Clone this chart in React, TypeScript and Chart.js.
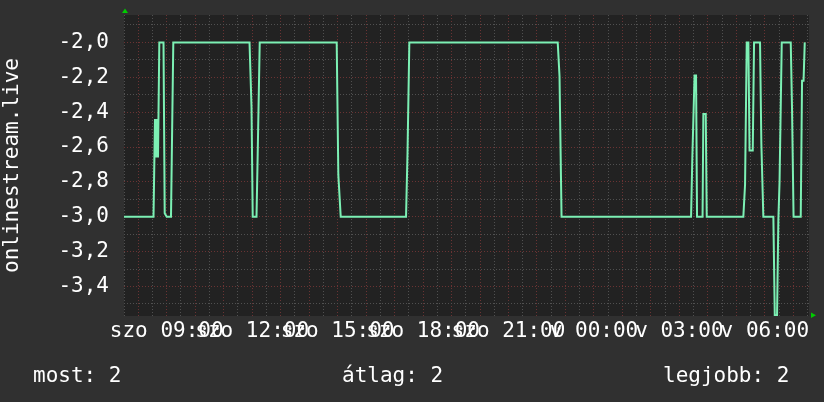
import React, { useEffect, useRef } from 'react';
import { Chart, registerables } from 'chart.js';

Chart.register(...registerables);

// time in hours since Saturday 00:00
const hours = [
  7.5, 8.536, 8.588, 8.624, 8.659, 8.694, 8.74, 8.887, 8.929, 8.999,
  9.15, 9.178, 9.231, 11.907, 11.977, 12.019, 12.152, 12.194, 12.265,
  14.968, 15.025, 15.109, 17.402, 17.454, 17.518, 22.728, 22.791, 22.862,
  27.409, 27.454, 27.532, 27.584, 27.619, 27.813, 27.841, 27.925, 27.96,
  29.245, 29.305, 29.364, 29.421, 29.463, 29.575, 29.621, 29.831, 29.877,
  29.947, 30.299, 30.348, 30.428, 30.474, 30.516, 30.593, 30.909, 30.955,
  31.008, 31.26, 31.306, 31.359, 31.401,
];
const values = [
  -3.0, -3.0, -2.44, -2.66, -2.44, -2.66, -2.0, -2.0, -2.98, -3.0,
  -3.0, -2.655, -2.0, -2.0, -2.37, -3.0, -3.0, -2.64, -2.0,
  -2.0, -2.76, -3.0, -3.0, -2.635, -2.0, -2.0, -2.195, -3.0,
  -3.0, -2.66, -2.19, -2.19, -3.0, -3.0, -2.41, -2.41, -3.0,
  -3.0, -2.815, -2.0, -2.0, -2.62, -2.62, -2.0, -2.0, -2.58,
  -3.0, -3.0, -3.565, -3.565, -3.02, -2.8, -2.0, -2.0, -2.386,
  -3.0, -3.0, -2.22, -2.22, -2.0,
];

const yGridValues = [-1.9, -2.0, -2.1, -2.2, -2.3, -2.4, -2.5, -2.6, -2.7, -2.8, -2.9, -3.0, -3.1, -3.2, -3.3, -3.4, -3.5];
const xLabelHours = [9, 12, 15, 18, 21, 24, 27, 30];
const xLabels = ['szo 09:00', 'szo 12:00', 'szo 15:00', 'szo 18:00', 'szo 21:00', 'v 00:00', 'v 03:00', 'v 06:00'];
const xGridStart = 7.5;
const xGridEnd = 31.5;
const xGridStep = 0.5;
const seriesName = 'onlinestream.live';
const legendTexts = ['most: 2', 'átlag: 2', 'legjobb: 2'];
const legendX = [33, 342, 663];

const FONT = "'DejaVu Sans Mono', monospace";
const RED_GRID = '#6a3333';
const GRAY_GRID = '#505050';

export default function App() {
  const ref = useRef<HTMLCanvasElement | null>(null);

  useEffect(() => {
    const canvas = ref.current;
    if (!canvas) return;

    const xGrid: number[] = [];
    for (let h = xGridStart; h <= xGridEnd + 1e-9; h += xGridStep) xGrid.push(Math.round(h * 2) / 2);

    const decor = {
      id: 'decor',
      beforeDraw(chart: any) {
        const { ctx, chartArea } = chart;
        ctx.save();
        ctx.fillStyle = '#222222';
        ctx.fillRect(chartArea.left, chartArea.top, chartArea.right - chartArea.left, chartArea.bottom - chartArea.top);
        ctx.restore();
      },
      afterDraw(chart: any) {
        const { ctx, chartArea } = chart;
        ctx.save();
        ctx.fillStyle = '#00cc00';
        ctx.beginPath();
        ctx.moveTo(chartArea.left + 1, chartArea.top - 6.5);
        ctx.lineTo(chartArea.left - 2, chartArea.top - 2);
        ctx.lineTo(chartArea.left + 4, chartArea.top - 2);
        ctx.closePath();
        ctx.fill();
        ctx.beginPath();
        ctx.moveTo(chartArea.right + 2, chartArea.bottom - 3.5);
        ctx.lineTo(chartArea.right + 2, chartArea.bottom + 2);
        ctx.lineTo(chartArea.right + 7, chartArea.bottom - 0.7);
        ctx.closePath();
        ctx.fill();
        ctx.fillStyle = '#ffffff';
        ctx.font = `21px ${FONT}`;
        ctx.textBaseline = 'alphabetic';
        ctx.textAlign = 'left';
        legendTexts.forEach((t, i) => ctx.fillText(t, legendX[i], 382));
        ctx.restore();
      },
    };

    const chart = new Chart(canvas, {
      type: 'line',
      data: {
        datasets: [
          {
            label: seriesName,
            data: hours.map((h, i) => ({ x: h, y: values[i] })),
            borderColor: '#7cf0b4',
            borderWidth: 2,
            pointRadius: 0,
            tension: 0,
            fill: false,
          },
        ],
      },
      options: {
        animation: false,
        responsive: false,
        devicePixelRatio: 1,
        layout: { padding: { top: 15, right: 15, left: 0, bottom: 0 } },
        plugins: { legend: { display: false }, tooltip: { enabled: false } },
        scales: {
          x: {
            type: 'linear',
            min: 7.5,
            max: 31.55,
            afterBuildTicks: (scale: any) => {
              scale.ticks = xGrid.map((v) => ({ value: v }));
            },
            afterFit: (scale: any) => {
              scale.height = 86;
              scale.paddingLeft = 0;
              scale.paddingRight = 0;
            },
            ticks: {
              autoSkip: false,
              maxRotation: 0,
              minRotation: 0,
              padding: 3,
              color: '#ffffff',
              font: { family: FONT, size: 21 },
              callback: (v: any) => {
                const i = xLabelHours.indexOf(Number(v));
                return i >= 0 ? xLabels[i] : '';
              },
            },
            grid: {
              drawTicks: false,
              lineWidth: 1,
              color: (c: any) => (c.tick && Number.isInteger(c.tick.value) ? RED_GRID : GRAY_GRID),
            },
            border: { display: false, dash: [1, 2] },
          },
          y: {
            type: 'linear',
            min: -3.569,
            max: -1.843,
            afterBuildTicks: (scale: any) => {
              scale.ticks = yGridValues.map((v) => ({ value: v }));
            },
            afterFit: (scale: any) => {
              scale.width = 124;
              scale.paddingTop = 0;
              scale.paddingBottom = 0;
            },
            title: {
              display: true,
              text: seriesName,
              color: '#ffffff',
              font: { family: FONT, size: 21 },
              padding: { top: 0, bottom: 0 },
            },
            ticks: {
              autoSkip: false,
              padding: 15,
              color: '#ffffff',
              font: { family: FONT, size: 21 },
              callback: (v: any) => {
                const n = Math.round(Number(v) * 10);
                return n % 2 === 0 ? (n / 10).toFixed(1).replace('.', ',') : '';
              },
            },
            grid: {
              drawTicks: false,
              lineWidth: 1,
              color: (c: any) => {
                if (!c.tick) return GRAY_GRID;
                const n = Math.round(c.tick.value * 10);
                return n % 2 === 0 ? RED_GRID : GRAY_GRID;
              },
            },
            border: { display: false, dash: [1, 2] },
          },
        },
      },
      plugins: [decor],
    } as any);

    return () => chart.destroy();
  }, []);

  return (
    <div style={{ position: 'absolute', left: 0, top: 0, width: 824, height: 402, background: '#303030' }}>
      <canvas ref={ref} width={824} height={402} style={{ display: 'block', width: 824, height: 402 }} />
    </div>
  );
}
